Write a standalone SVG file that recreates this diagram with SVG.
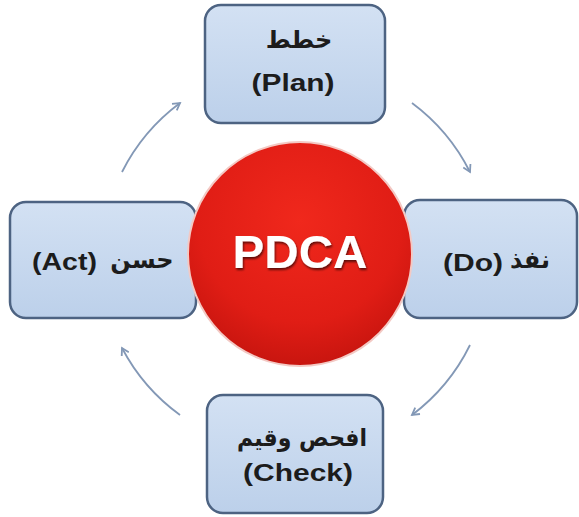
<svg xmlns="http://www.w3.org/2000/svg" width="579" height="517" viewBox="0 0 579 517">
<defs>
<linearGradient id="boxg" x1="0" y1="0" x2="0" y2="1">
<stop offset="0" stop-color="#d3e1f3"/>
<stop offset="1" stop-color="#bcd0ea"/>
</linearGradient>
<radialGradient id="redg" cx="0.5" cy="0.35" r="0.65">
<stop offset="0" stop-color="#f0281c"/>
<stop offset="0.7" stop-color="#e01d15"/>
<stop offset="1" stop-color="#c8150f"/>
</radialGradient>
<marker id="ah" viewBox="0 0 10 10" refX="8" refY="5" markerWidth="10" markerHeight="10" orient="auto" markerUnits="userSpaceOnUse">
<path d="M1,1 L8,5 L1,9" fill="none" stroke="#8398b6" stroke-width="1.8"/>
</marker>
<filter id="sh" x="-10%" y="-10%" width="120%" height="130%">
<feDropShadow dx="1" dy="2" stdDeviation="1" flood-color="#000" flood-opacity="0.6"/>
</filter>
</defs>
<style>
.box{fill:url(#boxg);stroke:#4d6382;stroke-width:2.5}
.en{font-family:"Liberation Sans",Arial,sans-serif;font-weight:bold;font-size:24px;fill:#1c1c1c;text-anchor:middle}
.ar{font-family:"DejaVu Sans","Noto Sans",sans-serif;font-weight:bold;font-size:24px;fill:#1c1c1c;text-anchor:middle}
.arr{fill:none;stroke:#8398b6;stroke-width:1.8;marker-end:url(#ah)}
</style>
<rect width="579" height="517" fill="#ffffff"/>
<g id="connectors">
<path class="arr" d="M122,172 A195,195 0 0 1 180,103"/>
<path class="arr" d="M412,103 A195,195 0 0 1 470,172"/>
<path class="arr" d="M470,345 A195,195 0 0 1 412,415"/>
<path class="arr" d="M180,415 A195,195 0 0 1 122,348"/>
</g>
<g id="plan">
<rect class="box" x="205" y="5" width="180" height="118" rx="16"/>
<text class="ar" x="299" y="48">خطط</text>
<text class="en" x="293" y="91" textLength="83" lengthAdjust="spacingAndGlyphs">(Plan)</text>
</g>
<g id="act">
<rect class="box" x="10" y="202" width="186" height="116" rx="16"/>
<text class="en" x="64.5" y="270" textLength="65" lengthAdjust="spacingAndGlyphs">(Act)</text>
<text class="ar" x="142" y="268">حسن</text>
</g>
<g id="do">
<rect class="box" x="404" y="200" width="173" height="118" rx="16"/>
<text class="en" x="473" y="271" textLength="60" lengthAdjust="spacingAndGlyphs">(Do)</text>
<text class="ar" x="530" y="268">نفذ</text>
</g>
<g id="check">
<rect class="box" x="207" y="395" width="176" height="118" rx="16"/>
<text class="ar" x="302" y="446" textLength="130" lengthAdjust="spacingAndGlyphs">افحص وقيم</text>
<text class="en" x="298" y="481" textLength="110" lengthAdjust="spacingAndGlyphs">(Check)</text>
</g>
<g id="pdca">
<circle cx="300" cy="254" r="112" fill="url(#redg)" stroke="#f3c9c4" stroke-width="2"/>
<text x="300" y="268" filter="url(#sh)" style="font-family:'Liberation Sans',Arial,sans-serif;font-weight:bold;font-size:47px;fill:#ffffff;text-anchor:middle" textLength="135" lengthAdjust="spacingAndGlyphs">PDCA</text>
</g>
</svg>
